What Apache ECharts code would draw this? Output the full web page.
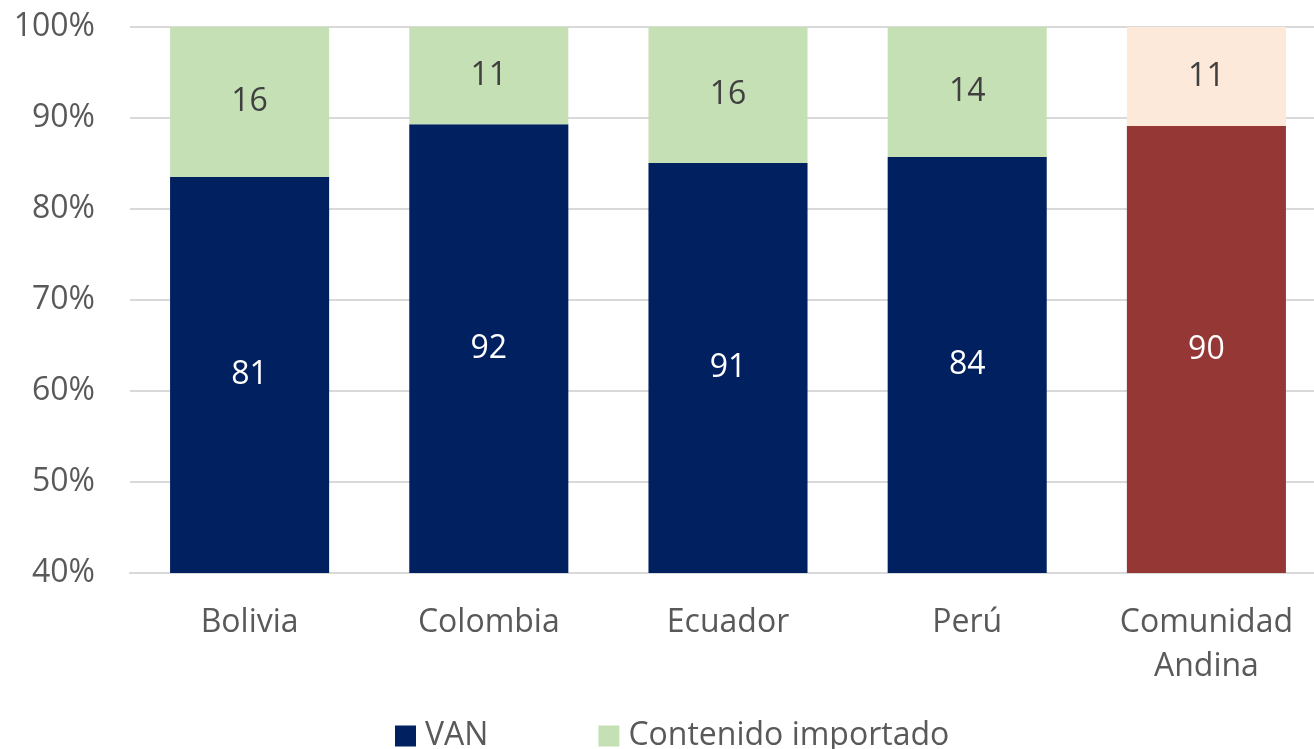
<!DOCTYPE html>
<html>
<head>
	<meta charset="utf-8">
	<title>VAN y contenido importado</title>
	<script src="https://cdn.jsdelivr.net/npm/echarts@6/dist/echarts.min.js"></script>
	<style>
		html, body { margin: 0; padding: 0; background: #fff; }
		#main { width: 1314px; height: 749px; }
	</style>
</head>
<body>
<div id="main"></div>
<script type="text/javascript">
// 数据
var paises = ['Bolivia', 'Colombia', 'Ecuador', 'Perú', 'Comunidad\nAndina'];
var van = [81, 92, 91, 84, 90];
var importado = [16, 11, 16, 14, 11];
var yTicks = [40, 50, 60, 70, 80, 90, 100];

var fuente = 'Open Sans';
// 100% apilado: cada barra se normaliza a su total
function cuota(i, v) { return v / (van[i] + importado[i]) * 100; }

var dataVan = van.map(function (v, i) {
    var d = { value: cuota(i, v), etiqueta: v };
    if (i === van.length - 1) d.itemStyle = { color: '#953735' };
    return d;
});
var dataImp = importado.map(function (v, i) {
    var d = { value: cuota(i, v), etiqueta: v };
    if (i === importado.length - 1) d.itemStyle = { color: '#FDE9DA' };
    return d;
});

var myChart = echarts.init(document.getElementById('main'));
var option = {
    animation: false,
    grid: { left: 130, width: 1196, top: 27, bottom: 176, outerBoundsMode: 'none' },
    legend: {
        bottom: -8,
        left: 390,
        itemWidth: 21,
        itemHeight: 21,
        itemGap: 110,
        icon: 'rect',
        textStyle: { fontFamily: fuente, fontSize: 32, color: '#595959', padding: [0, 0, 0, 4] },
        data: ['VAN', 'Contenido importado']
    },
    xAxis: {
        type: 'category',
        data: paises,
        axisTick: { show: false },
        axisLine: { lineStyle: { color: '#d9d9d9', width: 2 } },
        axisLabel: { fontFamily: fuente, fontSize: 32, color: '#595959', margin: 28, lineHeight: 44 }
    },
    yAxis: {
        type: 'value',
        min: yTicks[0],
        max: yTicks[yTicks.length - 1],
        interval: 10,
        axisLine: { show: false },
        axisTick: { show: false },
        splitLine: { lineStyle: { color: '#d9d9d9', width: 2 } },
        axisLabel: { fontFamily: fuente, fontSize: 32, color: '#595959', margin: 35, formatter: '{value}%' }
    },
    series: [{
        name: 'VAN',
        type: 'bar',
        stack: 'total',
        barWidth: '66.5%',
        itemStyle: { color: '#002060' },
        label: {
            show: true, position: 'inside', color: '#ffffff',
            fontFamily: fuente, fontSize: 32,
            formatter: function (p) { return p.data.etiqueta; }
        },
        data: dataVan
    }, {
        name: 'Contenido importado',
        type: 'bar',
        stack: 'total',
        itemStyle: { color: '#C5E0B4' },
        label: {
            show: true, position: 'inside', color: '#404040',
            fontFamily: fuente, fontSize: 32,
            formatter: function (p) { return p.data.etiqueta; }
        },
        data: dataImp
    }]
};
myChart.setOption(option);
</script>
</body>
</html>
